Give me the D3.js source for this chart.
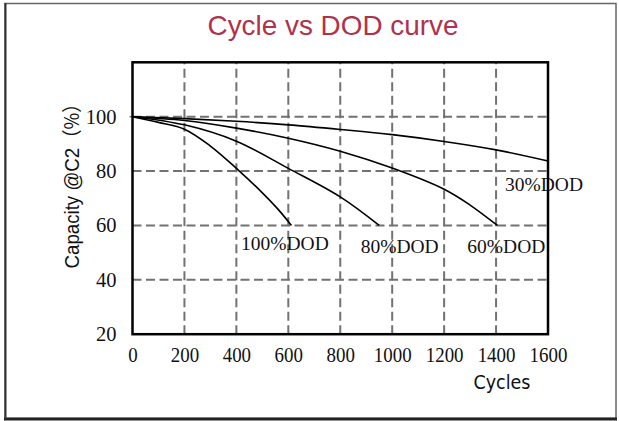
<!DOCTYPE html>
<html>
<head>
<meta charset="utf-8">
<script src="https://cdn.jsdelivr.net/npm/d3@7"></script>
<style>
  html, body { margin: 0; padding: 0; background: #fff; }
  svg { display: block; }
</style>
</head>
<body>
<svg id="chart" width="619" height="421"></svg>
<script>
// ---- data ----
const title = "Cycle vs DOD curve";
const xTickValues = [0, 200, 400, 600, 800, 1000, 1200, 1400, 1600];
const yTickValues = [20, 40, 60, 80, 100];
const seriesNames = ["100%DOD", "80%DOD", "60%DOD", "30%DOD"];
const cycles100 = [0, 100, 200, 300, 400, 500, 560, 612];
const capacity100 = [100, 97.9, 95.4, 89.2, 81.0, 72.0, 66.0, 60];
const cycles80 = [0, 200, 400, 600, 800, 950];
const capacity80 = [100, 97.0, 91.0, 81.0, 70.5, 60];
const cycles60 = [0, 200, 400, 600, 800, 1000, 1200, 1300, 1405];
const capacity60 = [100, 98.6, 95.8, 92.1, 87.3, 81.1, 73.3, 67.5, 60];
const cycles30 = [0, 200, 400, 600, 800, 1000, 1200, 1400, 1600];
const capacity30 = [100, 99.3, 98.3, 97.0, 95.3, 93.4, 90.9, 87.8, 83.7];

const seriesCycles = [cycles100, cycles80, cycles60, cycles30];
const seriesCapacity = [capacity100, capacity80, capacity60, capacity30];

// ---- layout ----
const svg = d3.select("#chart");
const plot = { left: 132.5, right: 548, top: 62.3, bottom: 334.2 };
const x = d3.scaleLinear().domain([0, 1600]).range([plot.left, plot.right]);
const y = d3.scaleLinear().domain([20, 120]).range([plot.bottom, plot.top]);

// outer frame
svg.append("rect").attr("x", 5).attr("y", 3.5).attr("width", 611).attr("height", 415)
  .attr("fill", "#fff").attr("stroke", "#666").attr("stroke-width", 1.5);
svg.append("line").attr("x1", 4).attr("x2", 617).attr("y1", 419).attr("y2", 419)
  .attr("stroke", "#222").attr("stroke-width", 3);
svg.append("line").attr("x1", 5.5).attr("x2", 5.5).attr("y1", 3).attr("y2", 419)
  .attr("stroke", "#333").attr("stroke-width", 2);

// title
svg.append("text").attr("x", 333).attr("y", 35)
  .attr("text-anchor", "middle")
  .attr("font-family", "'Liberation Sans', Arial, sans-serif")
  .attr("font-size", 27.5).attr("fill", "#b0324a")
  .attr("textLength", 251).attr("lengthAdjust", "spacingAndGlyphs")
  .text(title);

// gridlines
const grid = svg.append("g").attr("stroke", "#727272").attr("stroke-width", 2)
  .attr("stroke-dasharray", "9,4.5").attr("fill", "none");
grid.selectAll("line.v").data(xTickValues.filter(d => d > 0 && d < 1600)).enter()
  .append("line").attr("class", "v")
  .attr("x1", d => x(d)).attr("x2", d => x(d))
  .attr("y1", plot.bottom).attr("y2", plot.top);
grid.selectAll("line.h").data(yTickValues.filter(d => d > 20)).enter()
  .append("line").attr("class", "h")
  .attr("x1", plot.left).attr("x2", plot.right)
  .attr("y1", d => y(d)).attr("y2", d => y(d));
// small tick at 100
svg.append("line").attr("x1", plot.left - 3).attr("x2", plot.left)
  .attr("y1", y(100)).attr("y2", y(100)).attr("stroke", "#777").attr("stroke-width", 1.5);

// axes (tick labels via d3 axes, no domain/lines)
const xAxis = svg.append("g").attr("transform", `translate(0,${plot.bottom})`)
  .call(d3.axisBottom(x).tickValues(xTickValues).tickSize(0).tickPadding(0).tickFormat(d3.format("d")));
xAxis.select(".domain").remove();
xAxis.selectAll("text")
  .attr("font-family", "'Liberation Serif', 'Times New Roman', serif")
  .attr("font-size", 21.5).attr("fill", "#111")
  .attr("dy", 0).attr("y", 0)
  .attr("transform", "translate(0,28) scale(0.88,1)");

const yAxis = svg.append("g").attr("transform", `translate(${plot.left},0)`)
  .call(d3.axisLeft(y).tickValues(yTickValues).tickSize(0).tickPadding(0).tickFormat(d3.format("d")));
yAxis.select(".domain").remove();
yAxis.selectAll("text")
  .attr("font-family", "'Liberation Serif', 'Times New Roman', serif")
  .attr("font-size", 20.5).attr("fill", "#111")
  .attr("x", -16).attr("dy", 0).attr("y", 6.5)
  .attr("text-anchor", "end");

// axis titles
svg.append("text").attr("x", 502).attr("y", 389)
  .attr("text-anchor", "middle")
  .attr("font-family", "'DejaVu Sans', Verdana, sans-serif")
  .attr("font-size", 19).attr("fill", "#111")
  .attr("textLength", 57).attr("lengthAdjust", "spacingAndGlyphs")
  .text("Cycles");

const yTitle = svg.append("text")
  .attr("transform", "translate(78.5,181.5) rotate(-90)")
  .attr("text-anchor", "middle")
  .attr("font-family", "'Liberation Sans', Arial, sans-serif")
  .attr("font-size", 20.5).attr("fill", "#111")
  .attr("textLength", 174).attr("lengthAdjust", "spacingAndGlyphs");
yTitle.append("tspan").text("Capacity @C2");
yTitle.append("tspan").attr("font-family", "'Noto Sans CJK SC', sans-serif").attr("font-size", 20).text("（%）");

// curves
const line = d3.line().x(d => x(d[0])).y(d => y(d[1])).curve(d3.curveCatmullRom.alpha(0.5));
const seriesData = seriesNames.map((n, i) => ({
  name: n,
  pts: seriesCycles[i].map((c, j) => [c, seriesCapacity[i][j]])
}));
svg.append("g").selectAll("path").data(seriesData).enter().append("path")
  .attr("d", d => line(d.pts))
  .attr("fill", "none").attr("stroke", "#000").attr("stroke-width", 1.6);

// series labels, placed relative to each curve's end point
const labelOffset = { "100%DOD": [-6.5, 24.5], "80%DOD": [20.5, 27.5], "60%DOD": [9, 27.5], "30%DOD": [-4, 30.5] };
svg.append("g").selectAll("text").data(seriesData).enter().append("text")
  .attr("x", d => x(d.pts[d.pts.length - 1][0]) + labelOffset[d.name][0])
  .attr("y", d => y(d.pts[d.pts.length - 1][1]) + labelOffset[d.name][1])
  .attr("text-anchor", "middle")
  .attr("font-family", "'Liberation Serif', 'Times New Roman', serif")
  .attr("font-size", 19.5).attr("fill", "#111")
  .text(d => d.name);

// plot border
svg.append("rect").attr("x", plot.left).attr("y", plot.top)
  .attr("width", plot.right - plot.left).attr("height", plot.bottom - plot.top)
  .attr("fill", "none").attr("stroke", "#000").attr("stroke-width", 2.5);
</script>
</body>
</html>
